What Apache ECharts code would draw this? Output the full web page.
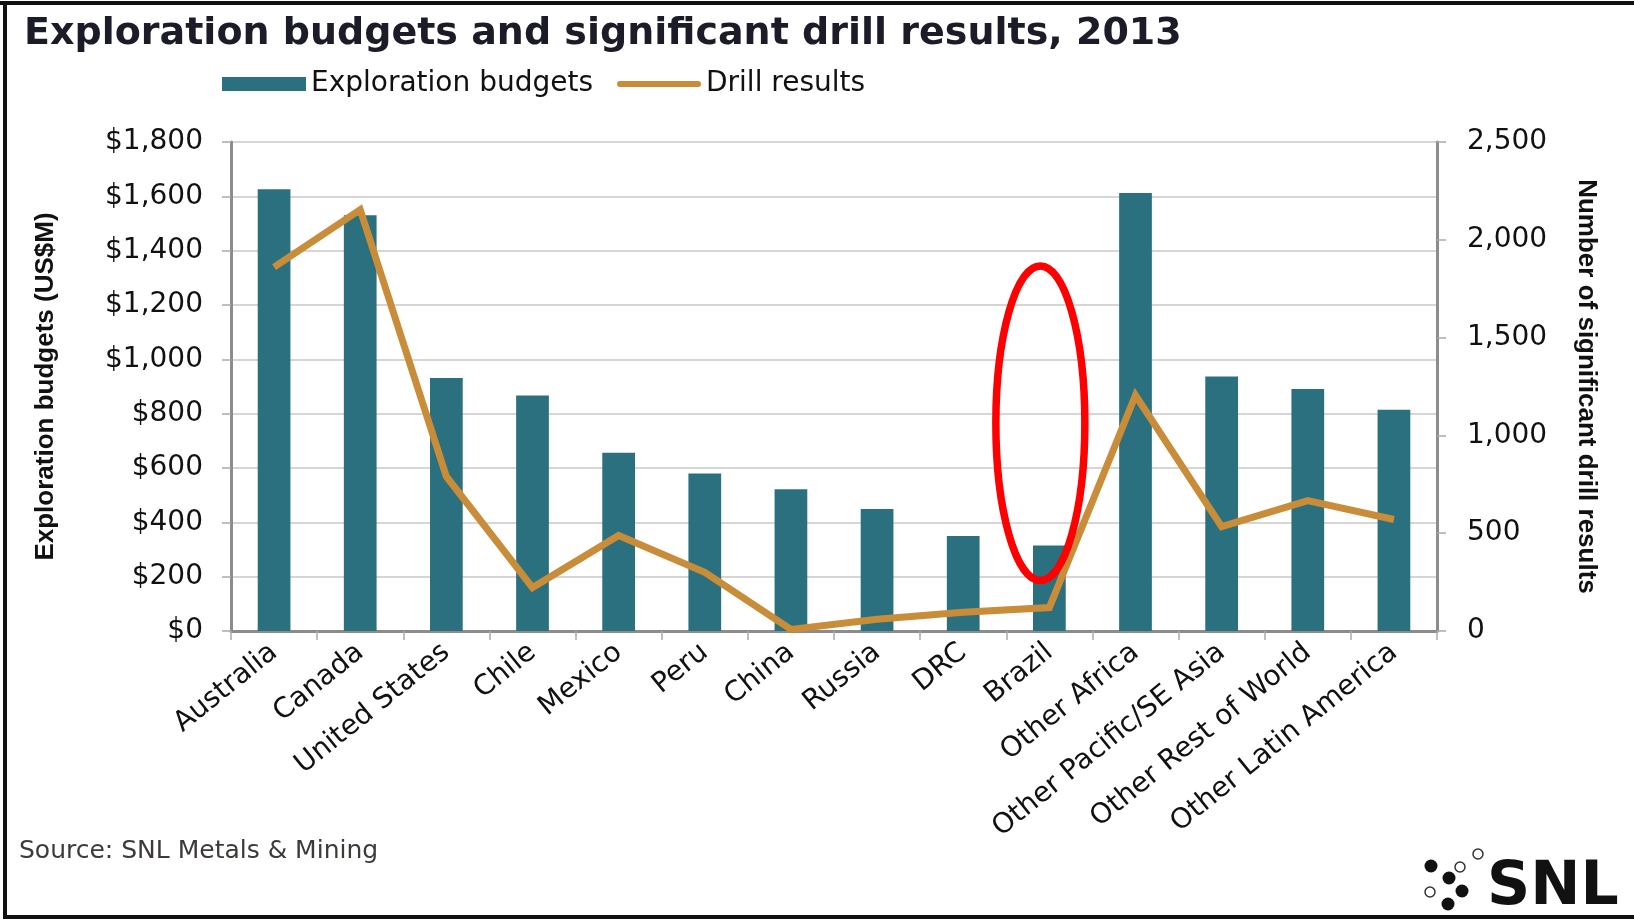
<!DOCTYPE html>
<html>
<head>
<meta charset="utf-8">
<script src="https://cdn.jsdelivr.net/npm/echarts@6/dist/echarts.min.js"></script>
<style>
html,body{margin:0;padding:0;background:#fff;}
#chart{width:1634px;height:922px;}
</style>
</head>
<body>
<div id="chart"></div>
<script>
const categories = ['Australia','Canada','United States','Chile','Mexico','Peru','China','Russia','DRC','Brazil','Other Africa','Other Pacific/SE Asia','Other Rest of World','Other Latin America'];
const explorationBudgets = [1626, 1530, 931, 867, 656, 580, 522, 449, 350, 315, 1612, 937, 891, 814];
const drillResults = [1860, 2154, 790, 222, 488, 300, 8, 60, 96, 120, 1205, 534, 667, 570];
const leftTickLabels = ['$0','$200','$400','$600','$800','$1,000','$1,200','$1,400','$1,600','$1,800'];
const rightTickLabels = ['0','500','1,000','1,500','2,000','2,500'];

const titleText = 'Exploration budgets and significant drill results, 2013';
const sourceText = 'Source: SNL Metals & Mining';
const highlightCategory = 'Brazil';
const highlightRange = [186, 1344];

const FONT = 'DejaVu Sans';
const BAR = '#2b707f';
const LINE = '#c98d3a';
const AXIS = '#8c8c8c';

const chart = echarts.init(document.getElementById('chart'), null, {renderer: 'canvas'});

const option = {
  backgroundColor: '#fff',
  animation: false,
  title: {
    text: titleText,
    left: 19, top: 10,
    textStyle: {fontFamily: FONT, fontWeight: 'bold', fontSize: 38, color: '#1c1c28'}
  },
  legend: {
    left: 217, top: 65,
    itemWidth: 84, itemHeight: 14, itemGap: 24,
    textStyle: {fontFamily: FONT, fontSize: 28, color: '#111'},
    data: [
      {name: 'Exploration budgets', icon: 'rect'},
      {name: 'Drill results', icon: 'path://M3,0 L81,0 A3,3 0 0 1 81,6 L3,6 A3,3 0 0 1 3,0 Z', itemStyle: {color: LINE}}
    ]
  },
  grid: {left: 231, right: 197, top: 142, bottom: 291},
  xAxis: {
    type: 'category',
    data: categories,
    axisLine: {lineStyle: {color: AXIS, width: 3}},
    axisTick: {show: true, length: 9, lineStyle: {color: '#aaa', width: 1.5}},
    axisLabel: {interval: 0, rotate: 39, margin: 18, fontFamily: FONT, fontSize: 28, color: '#111'}
  },
  yAxis: [
    {
      type: 'value', min: 0, max: 1800, interval: 200,
      name: 'Exploration budgets (US$M)',
      nameLocation: 'middle', nameGap: 172, nameRotate: 90,
      nameTextStyle: {fontFamily: 'Liberation Sans', fontWeight: 'bold', fontSize: 26, color: '#111'},
      axisLine: {show: true, lineStyle: {color: AXIS, width: 3}},
      axisTick: {show: true, length: 9, lineStyle: {color: '#aaa', width: 1.5}},
      axisLabel: {margin: 28, fontFamily: FONT, fontSize: 28, color: '#111',
        formatter: v => leftTickLabels[Math.round(v / 200)]},
      splitLine: {show: true, lineStyle: {color: '#d6d6d6', width: 2}}
    },
    {
      type: 'value', min: 0, max: 2500, interval: 500, position: 'right',
      name: 'Number of significant drill results',
      nameLocation: 'middle', nameGap: 136, nameRotate: -90,
      nameTextStyle: {fontFamily: 'Liberation Sans', fontWeight: 'bold', fontSize: 26, color: '#111'},
      axisLine: {show: true, lineStyle: {color: AXIS, width: 3}},
      axisTick: {show: true, length: 9, lineStyle: {color: '#aaa', width: 1.5}},
      axisLabel: {margin: 30, fontFamily: FONT, fontSize: 28, color: '#111',
        formatter: v => rightTickLabels[Math.round(v / 500)]},
      splitLine: {show: false}
    }
  ],
  series: [
    {
      name: 'Exploration budgets', type: 'bar', yAxisIndex: 0,
      data: explorationBudgets, barWidth: '38%',
      itemStyle: {color: BAR}
    },
    {
      name: 'Drill results', type: 'line', yAxisIndex: 1,
      data: drillResults, symbol: 'none',
      lineStyle: {color: LINE, width: 7, join: 'miter'},
      itemStyle: {color: LINE}
    }
  ],
  graphic: [
    {type: 'text', left: 19, top: 839, style: {text: sourceText, fontFamily: FONT, fontSize: 25, fill: '#3d3a38'}},
    {type: 'rect', shape: {x: 0, y: 1, width: 1634, height: 4}, style: {fill: '#111'}},
    {type: 'rect', shape: {x: 3, y: 1, width: 4, height: 918}, style: {fill: '#111'}},
    {type: 'rect', shape: {x: 3, y: 915, width: 1631, height: 4}, style: {fill: '#111'}},
    {type: 'text', left: 1487, top: 858, style: {text: 'SNL', fontFamily: FONT, fontWeight: 'bold', fontSize: 60, fill: '#111'}},
    {type: 'circle', shape: {cx: 1431, cy: 866, r: 6.5}, style: {fill: '#111'}},
    {type: 'circle', shape: {cx: 1449, cy: 878, r: 6.5}, style: {fill: '#111'}},
    {type: 'circle', shape: {cx: 1462, cy: 891, r: 6.5}, style: {fill: '#111'}},
    {type: 'circle', shape: {cx: 1448, cy: 904, r: 6.5}, style: {fill: '#111'}},
    {type: 'circle', shape: {cx: 1460, cy: 867, r: 5}, style: {fill: '#fff', stroke: '#333', lineWidth: 1.5}},
    {type: 'circle', shape: {cx: 1478, cy: 854, r: 5}, style: {fill: '#fff', stroke: '#333', lineWidth: 1.5}},
    {type: 'circle', shape: {cx: 1430, cy: 892, r: 5}, style: {fill: '#fff', stroke: '#333', lineWidth: 1.5}}
  ]
};
chart.setOption(option);

// Red highlight ellipse around the Brazil column, placed through the axes
const cx = chart.convertToPixel({xAxisIndex: 0}, highlightCategory) - 9;
const yTop = chart.convertToPixel({yAxisIndex: 0}, highlightRange[1]);
const yBot = chart.convertToPixel({yAxisIndex: 0}, highlightRange[0]);
const g = option.graphic.slice();
g.push({
  type: 'ellipse',
  shape: {cx: cx, cy: (yTop + yBot) / 2, rx: 44.5, ry: (yBot - yTop) / 2},
  style: {fill: 'none', stroke: '#ff0000', lineWidth: 7.5},
  z: 100
});
chart.setOption({graphic: g}, {replaceMerge: ['graphic']});
</script>
</body>
</html>
